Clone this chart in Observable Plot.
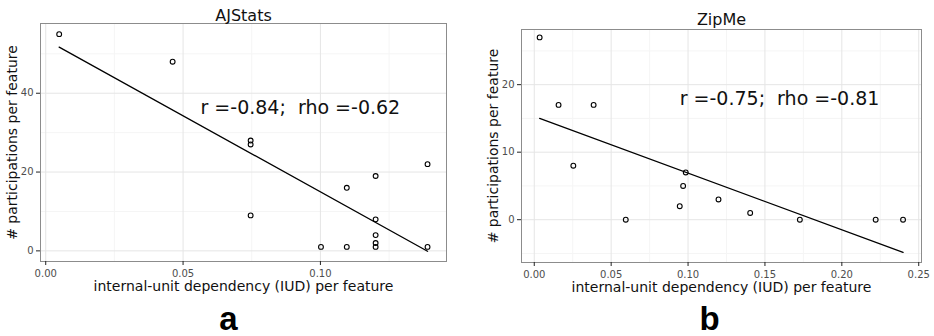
<!DOCTYPE html>
<html>
<head>
<meta charset="utf-8">
<script src="https://cdn.jsdelivr.net/npm/d3@7"></script>
<script src="https://cdn.jsdelivr.net/npm/@observablehq/plot@0.6"></script>
<style>
  html, body { margin: 0; padding: 0; background: #fff; }
  #wrap { position: relative; width: 934px; height: 336px; overflow: hidden; }
  #wrap svg { position: absolute; top: 0; }
</style>
</head>
<body>
<div id="wrap"></div>
<script>
// ---- Panel a: AJStats ----
const ajTitle = "AJStats";
const ajX = [0.0049, 0.0462, 0.0746, 0.0746, 0.0746, 0.1002, 0.1096, 0.1096, 0.1201, 0.1201, 0.1201, 0.1201, 0.1201, 0.139, 0.139];
const ajY = [55, 48, 28, 27, 9, 1, 16, 1, 19, 8, 4, 2, 1, 22, 1];
const ajFitX = [0.0049, 0.139];
const ajFitY = [51.7, -0.1];
const ajStat = "r =-0.84;  rho =-0.62";
const ajStatPos = [0.0927, 36.4];
const ajXTicks = [0, 0.05, 0.10];
const ajXMinor = [0.025, 0.075, 0.125];
const ajYTicks = [0, 20, 40];
const ajYMinor = [10, 30, 50];
const ajLetter = "a";

// ---- Panel b: ZipMe ----
const zipTitle = "ZipMe";
const zipX = [0.0035, 0.0158, 0.0386, 0.0254, 0.0595, 0.0985, 0.0968, 0.0946, 0.1198, 0.1404, 0.1727, 0.222, 0.2398];
const zipY = [27, 17, 17, 8, 0, 7, 5, 2, 3, 1, 0, 0, 0];
const zipFitX = [0.0035, 0.2398];
const zipFitY = [15.0, -4.85];
const zipStat = "r =-0.75;  rho =-0.81";
const zipStatPos = [0.1595, 17.84];
const zipXTicks = [0, 0.05, 0.10, 0.15, 0.20, 0.25];
const zipXMinor = [0.025, 0.075, 0.125, 0.175, 0.225];
const zipYTicks = [0, 10, 20];
const zipYMinor = [-5, 5, 15, 25];
const zipLetter = "b";

const xLabel = "internal-unit dependency (IUD) per feature";
const yLabel = "# participations per feature";

function panel(cfg) {
  const pts = cfg.xs.map((x, i) => ({x, y: cfg.ys[i]}));
  const fit = cfg.fitX.map((x, i) => ({x, y: cfg.fitY[i]}));
  const font = "DejaVu Sans, sans-serif";
  return Plot.plot({
    width: 467,
    height: 336,
    marginLeft: cfg.ml, marginRight: cfg.mr, marginTop: cfg.mt, marginBottom: cfg.mb,
    style: {fontFamily: font, background: "transparent", overflow: "visible"},
    x: {domain: cfg.xDomain},
    y: {domain: cfg.yDomain},
    marks: [
      Plot.ruleX(cfg.xMinor, {stroke: "#f5f5f5", strokeWidth: 1}),
      Plot.ruleY(cfg.yMinor, {stroke: "#f5f5f5", strokeWidth: 1}),
      Plot.ruleX(cfg.xTicks, {stroke: "#e5e5e5", strokeWidth: 1}),
      Plot.ruleY(cfg.yTicks, {stroke: "#e5e5e5", strokeWidth: 1}),
      Plot.frame({stroke: "#8c8c8c", strokeWidth: 1}),
      Plot.axisX(cfg.xTicks, {tickFormat: d3.format(".2f"), tickSize: 4, tickPadding: 4, fontSize: 10, stroke: "#222", fill: "#4d4d4d", label: null}),
      Plot.axisY(cfg.yTicks, {tickFormat: d3.format("d"), tickSize: 4, tickPadding: 3, fontSize: 10, stroke: "#222", fill: "#4d4d4d", label: null}),
      Plot.dot(pts, {x: "x", y: "y", r: 2.4, stroke: "black", strokeWidth: 1.1, fill: "none"}),
      Plot.line(fit, {x: "x", y: "y", stroke: "black", strokeWidth: 1.3}),
      Plot.text([cfg.stat], {x: () => cfg.statPos[0], y: () => cfg.statPos[1], text: d => d, fontSize: 19, fill: "#111"}),
      Plot.text([cfg.title], {frameAnchor: "top", lineAnchor: "bottom", dy: cfg.titleDy, text: d => d, fontSize: 16, fill: "#111"}),
      Plot.text([xLabel], {frameAnchor: "bottom", lineAnchor: "bottom", dy: cfg.xlabDy, text: d => d, fontSize: 14, fill: "#111"}),
      Plot.text([yLabel], {frameAnchor: "left", textAnchor: "middle", lineAnchor: "bottom", rotate: -90, dx: cfg.ylabDx, text: d => d, fontSize: 14, fill: "#111"}),
      Plot.text([cfg.letter], {frameAnchor: "bottom", lineAnchor: "bottom", dx: cfg.letterDx, dy: cfg.letterDy, text: d => d, fontSize: 33, fontWeight: "bold", fontFamily: "Liberation Sans, Arial, sans-serif", fill: "#000"})
    ]
  });
}

const wrap = document.getElementById("wrap");

const a = panel({
  xs: ajX, ys: ajY, fitX: ajFitX, fitY: ajFitY, stat: ajStat, statPos: ajStatPos,
  xTicks: ajXTicks, xMinor: ajXMinor, yTicks: ajYTicks, yMinor: ajYMinor,
  title: ajTitle, letter: ajLetter,
  xDomain: [-0.0019, 0.1459], yDomain: [-2.7, 57.7],
  ml: 40, mr: 21, mt: 23, mb: 75,
  titleDy: -2.6, xlabDy: 29, ylabDx: -23.3, letterDx: -15, letterDy: 68.5
});
a.style.left = "0px";
wrap.appendChild(a);

const b = panel({
  xs: zipX, ys: zipY, fitX: zipFitX, fitY: zipFitY, stat: zipStat, statPos: zipStatPos,
  xTicks: zipXTicks, xMinor: zipXMinor, yTicks: zipYTicks, yMinor: zipYMinor,
  title: zipTitle, letter: zipLetter,
  xDomain: [-0.0083, 0.2518], yDomain: [-6.34, 28.17],
  ml: 54, mr: 13, mt: 29, mb: 74,
  titleDy: -4.8, xlabDy: 29, ylabDx: -24, letterDx: -12, letterDy: 67.6
});
b.style.left = "467px";
wrap.appendChild(b);
</script>
</body>
</html>
